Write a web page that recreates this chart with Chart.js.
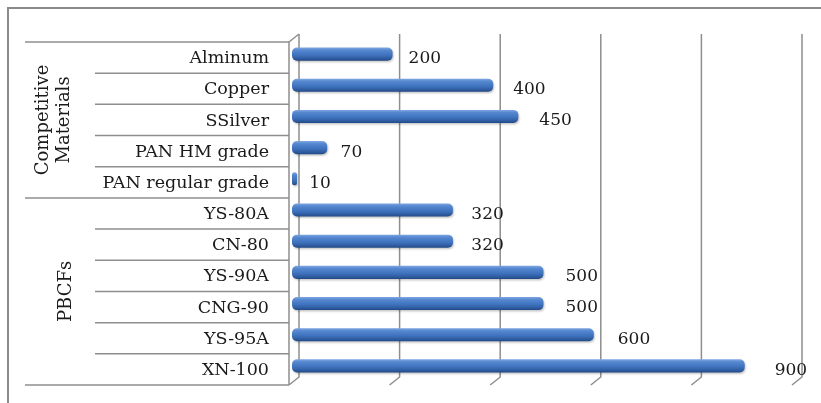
<!DOCTYPE html>
<html>
<head>
<meta charset="utf-8">
<script src="https://cdn.jsdelivr.net/npm/chart.js@4.4.0/dist/chart.umd.min.js"></script>
<style>
html,body{margin:0;padding:0;background:#fff;}
canvas{display:block;}
</style>
</head>
<body>
<canvas id="c" width="821" height="403"></canvas>
<script>
const categories = ['Alminum','Copper','SSilver','PAN HM grade','PAN regular grade','YS-80A','CN-80','YS-90A','CNG-90','YS-95A','XN-100'];
const values = [200,400,450,70,10,320,320,500,500,600,900];
const groupLabels = [['Competitive','Materials'],['PBCFs']];
const groupSizes = [5,6];
const axisMin = 0, axisMax = 1000, axisStep = 200;

const FONT = '"DejaVu Serif", serif';
const DX = 10, DY = -8;      // depth of the 3D back wall
const BX = 3, BY = -3.5;     // bars sit mid-depth
const lineCol = '#8e8e8e';

function barFill(ctx){
  const c = ctx.chart, ys = c.scales.y;
  if(!ys || ys.top === undefined || !c.chartArea) return '#4a7cc4';
  const py = ys.getPixelForValue(ctx.dataIndex);
  const g = c.ctx.createLinearGradient(0, py-6.5, 0, py+6.5);
  g.addColorStop(0,'#7ea6e2');
  g.addColorStop(0.2,'#5588d0');
  g.addColorStop(0.6,'#3e71bc');
  g.addColorStop(0.9,'#2a5698');
  g.addColorStop(1,'#1f4784');
  return g;
}

const deco = {
  id:'deco',
  beforeDraw(chart){
    const ctx = chart.ctx;
    ctx.save();
    ctx.fillStyle = '#fff';
    ctx.fillRect(0,0,chart.width,chart.height);
    ctx.strokeStyle = '#8a8a8a'; ctx.lineWidth = 2;
    ctx.beginPath();
    ctx.moveTo(8, chart.height); ctx.lineTo(8, 8); ctx.lineTo(chart.width, 8);
    ctx.stroke();
    ctx.restore();
  },
  beforeDatasetsDraw(chart){
    const ctx = chart.ctx, xs = chart.scales.x, a = chart.chartArea;
    ctx.save();
    ctx.strokeStyle = lineCol; ctx.lineWidth = 1.5;
    for(let v = axisMin; v <= axisMax; v += axisStep){
      const xf = xs.getPixelForValue(v);
      ctx.beginPath();
      ctx.moveTo(xf + DX, a.top + DY);
      ctx.lineTo(xf + DX, a.bottom + DY);
      ctx.lineTo(xf, a.bottom);
      ctx.stroke();
    }
    const x0 = xs.getPixelForValue(axisMin);
    ctx.beginPath();
    ctx.moveTo(x0, a.bottom); ctx.lineTo(x0, a.top); ctx.lineTo(x0 + DX, a.top + DY);
    ctx.stroke();
    ctx.restore();
    ctx.save();
    ctx.translate(BX, BY);
    ctx.shadowColor = 'rgba(0,0,0,0.22)';
    ctx.shadowOffsetX = 1; ctx.shadowOffsetY = 1.5; ctx.shadowBlur = 2;
  },
  afterDatasetsDraw(chart){
    const ctx = chart.ctx, xs = chart.scales.x, ys = chart.scales.y, a = chart.chartArea;
    ctx.restore();
    ctx.save();
    ctx.fillStyle = '#1a1a1a';
    ctx.font = '17px ' + FONT;
    ctx.textAlign = 'left'; ctx.textBaseline = 'middle';
    values.forEach((v,i)=>{
      ctx.fillText(String(v), xs.getPixelForValue(v) + BX + 12 + v * 0.02, ys.getPixelForValue(i) + 1);
    });
    const rowH = (a.bottom - a.top) / categories.length;
    const tableL = 25, innerL = 95, tableR = a.left;
    ctx.strokeStyle = lineCol; ctx.lineWidth = 1.5;
    ctx.beginPath();
    ctx.moveTo(tableL, a.top); ctx.lineTo(tableR, a.top);
    let idx = 0;
    groupSizes.forEach((n)=>{
      for(let k=1;k<n;k++){
        const y = a.top + (idx + k) * rowH;
        ctx.moveTo(innerL, y); ctx.lineTo(tableR, y);
      }
      idx += n;
      const y = a.top + idx * rowH;
      ctx.moveTo(tableL, y); ctx.lineTo(tableR, y);
    });
    ctx.stroke();
    ctx.fillStyle = '#1a1a1a';
    ctx.font = '17.5px ' + FONT;
    ctx.textAlign = 'right'; ctx.textBaseline = 'middle';
    categories.forEach((c,i)=>{
      ctx.fillText(c, 269, ys.getPixelForValue(i) + 1);
    });
    idx = 0;
    ctx.font = '18px ' + FONT;
    groupSizes.forEach((n,g)=>{
      const yc = a.top + (idx + n/2) * rowH;
      idx += n;
      const lines = groupLabels[g];
      const lh = 21.5;
      const xc = lines.length > 1 ? 54 : 66;
      ctx.save();
      ctx.translate(xc, yc);
      ctx.rotate(-Math.PI/2);
      ctx.textAlign = 'center'; ctx.textBaseline = 'middle';
      lines.forEach((t,j)=>{
        ctx.fillText(t, 0, (j - (lines.length-1)/2) * lh);
      });
      ctx.restore();
    });
    ctx.restore();
  }
};

new Chart(document.getElementById('c'), {
  type:'bar',
  data:{
    labels: categories,
    datasets:[{
      data: values,
      backgroundColor: barFill,
      borderWidth: 0,
      borderRadius: 5,
      borderSkipped: false,
      categoryPercentage: 1,
      barPercentage: 0.42
    }]
  },
  options:{
    indexAxis:'y',
    responsive:false,
    animation:false,
    devicePixelRatio:1,
    layout:{padding:{top:42,right:29,bottom:18,left:0}},
    plugins:{legend:{display:false},tooltip:{enabled:false}},
    scales:{
      x:{display:false,min:axisMin,max:axisMax,ticks:{stepSize:axisStep}},
      y:{
        display:true,
        grid:{display:false},
        border:{display:false},
        ticks:{display:false},
        afterFit(s){ s.width = 289; }
      }
    }
  },
  plugins:[deco]
});
</script>
</body>
</html>
